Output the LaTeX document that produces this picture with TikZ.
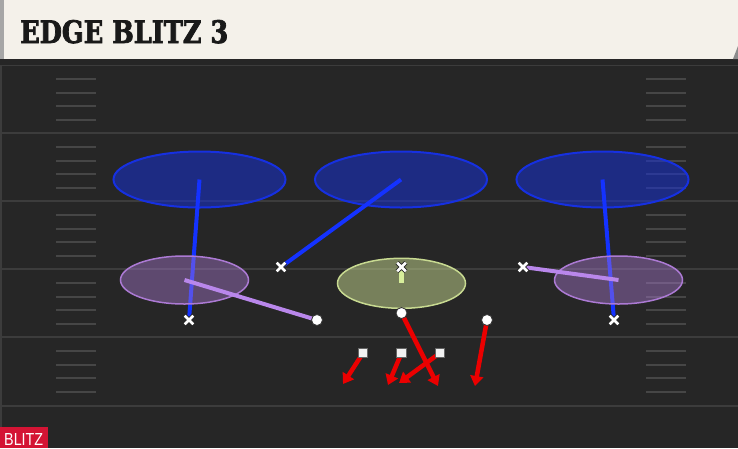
\documentclass[tikz,border=0pt]{standalone}
\usepackage{fontspec}
\newfontfamily\titlefont{DejaVu Serif Condensed}[FakeBold=2.5]
\newfontfamily\labelfont{Liberation Sans}
\usetikzlibrary{shapes.geometric,shapes.misc,arrows.meta}
\definecolor{fieldbg}{RGB}{38,38,38}
\definecolor{yardline}{RGB}{60,60,60}
\definecolor{hashc}{RGB}{70,70,70}
\definecolor{headbg}{RGB}{244,241,234}
\definecolor{zoneblue}{RGB}{22,48,225}
\definecolor{linkblue}{RGB}{20,50,255}
\definecolor{zonepurple}{RGB}{172,122,212}
\definecolor{linkpurple}{RGB}{185,135,235}
\definecolor{zonegreen}{RGB}{200,218,145}
\definecolor{linkgreen}{RGB}{215,238,155}
\definecolor{rushred}{RGB}{235,0,0}
\definecolor{tagred}{RGB}{212,20,52}
\tikzset{
  bzone/.style={ellipse,draw=zoneblue,line width=2pt,fill=zoneblue,fill opacity=0.5,minimum width=172pt,minimum height=56pt,inner sep=0pt},
  pzone/.style={ellipse,draw=zonepurple,line width=1.5pt,fill=zonepurple,fill opacity=0.42,minimum width=128pt,minimum height=48pt,inner sep=0pt},
  gzone/.style={ellipse,draw=zonegreen,line width=1.5pt,fill=zonegreen,fill opacity=0.5,minimum width=128pt,minimum height=50pt,inner sep=0pt},
  bline/.style={draw=linkblue,line width=4pt},
  pline/.style={draw=linkpurple,line width=4pt},
  glinestyle/.style={draw=linkgreen,line width=4.5pt},
  rarrow/.style={draw=rushred,line width=4.5pt,-{Triangle[length=10pt,width=13pt]}},
  xmark/.style={cross out,draw=white,line width=2.6pt,minimum size=6pt,inner sep=0pt,preaction={draw=black!85,line width=4.4pt}},
  omark/.style={circle,fill=white,draw=black!80,line width=0.8pt,minimum size=11pt,inner sep=0pt},
  smark/.style={rectangle,fill=white!95!black,draw=black!60,line width=0.6pt,minimum size=9.5pt,inner sep=0pt},
  yard/.style={draw=yardline,line width=2pt},
  hash/.style={draw=hashc,line width=1.4pt}
}
\begin{document}
\begin{tikzpicture}[x=1pt,y=-1pt]
\useasboundingbox (0,0) rectangle (738,448);
% field
\fill[fieldbg] (0,0) rectangle (738,448);
\draw[yardline,line width=2pt] (1,60) -- (1,448);
% yard lines
\foreach \y in {65,133,201,269,337,406}
  \draw[yard] (0,\y) -- (738,\y);
% hash marks
\foreach \y in {65,133,201,269,337}
  \foreach \d in {14,28,41,55} {
    \draw[hash] (56,\y+\d) -- (96,\y+\d);
    \draw[hash] (646,\y+\d) -- (686,\y+\d);
  }
% header
\fill[black!85] (0,58) rectangle (738,65);
\fill[headbg] (0,0) rectangle (738,59);
\fill[black!35] (0,0) rectangle (4,59);
\fill[black!45] (738,46) -- (738,59) -- (733,59) -- cycle;
\node[anchor=base west,inner sep=0pt,text=black!90] (title) at (20,43)
  {\resizebox{208pt}{23pt}{\titlefont\bfseries EDGE BLITZ 3}};
% deep zones
\node[bzone] (zL) at (199.5,179.5) {};
\node[bzone] (zM) at (401,179.5) {};
\node[bzone] (zR) at (602.5,179.5) {};
% players
\coordinate (x1) at (189,320);
\coordinate (x2) at (281,267);
\coordinate (x3) at (401.5,267);
\coordinate (x4) at (523,267);
\coordinate (x5) at (614,320);
\coordinate (o1) at (317,320);
\coordinate (o2) at (401.5,313);
\coordinate (o3) at (487,320);
\coordinate (s1) at (363,353);
\coordinate (s2) at (401.5,353);
\coordinate (s3) at (440,353);
% blue drops
\draw[bline] (zL.center) -- (x1);
\draw[bline] (zM.center) -- (x2);
\draw[bline] (zR.center) -- (x5);
% underneath zones
\node[pzone] (pL) at (184.5,280) {};
\node[pzone] (pR) at (618.5,280) {};
\draw[pline] (pL.center) -- (o1);
\draw[pline] (x4) -- (pR.center);
% middle zone
\node[gzone] (gM) at (401.5,283.3) {};
\draw[glinestyle] ([yshift=3pt]x3) -- (gM.center);
% rush arrows
\coordinate (a1) at (343,384);
\coordinate (a2) at (388,385);
\coordinate (a3) at (399,383);
\coordinate (a4) at (438,386);
\coordinate (a5) at (475,386);
\draw[rarrow] (s1) -- (a1);
\draw[rarrow] (s2) -- (a2);
\draw[rarrow] (s3) -- (a3);
\draw[rarrow] (o2) -- (a4);
\draw[rarrow] (o3) -- (a5);
% markers
\foreach \p in {x1,x2,x3,x4,x5} \node[xmark] at (\p) {};
\foreach \p in {o1,o2,o3} \node[omark] at (\p) {};
\foreach \p in {s1,s2,s3} \node[smark] at (\p) {};
% tag
\fill[tagred] (0,427) rectangle (48,448);
\node[anchor=base west,inner sep=0pt,text=white] (tag) at (4,445)
  {\resizebox{39pt}{12pt}{\labelfont BLITZ}};
\end{tikzpicture}
\end{document}
